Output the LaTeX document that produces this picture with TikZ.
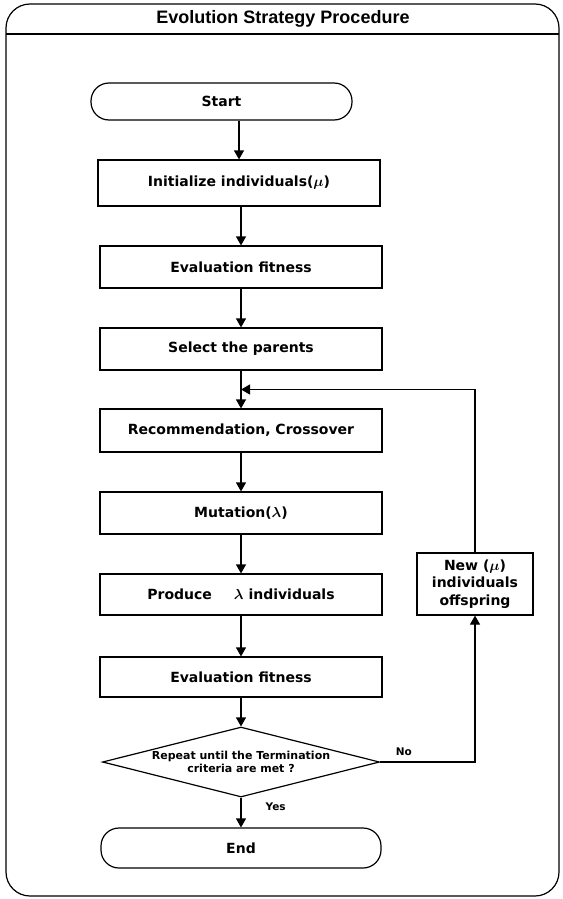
\documentclass[tikz,border=0pt]{standalone}
\usepackage{fontspec}
\setmainfont{DejaVu Sans}
\newfontfamily\titlefont{Liberation Sans}
\usetikzlibrary{arrows.meta,shapes.geometric,calc}
\begin{document}
\begin{tikzpicture}[x=1pt,y=-1pt,
  line width=1.2pt,
  box/.style={draw, rectangle, minimum width=282pt, minimum height=42pt, inner sep=0pt, font=\fontsize{14pt}{17.5pt}\selectfont\bfseries\boldmath},
  term/.style={box, rounded corners=18pt},
  dec/.style={draw, diamond, shape aspect=4, inner sep=0pt, minimum width=277pt, minimum height=70pt, align=center, font=\fontsize{11pt}{13.5pt}\selectfont\bfseries},
  lbl/.style={font=\fontsize{10.5pt}{12pt}\selectfont\bfseries, inner sep=0pt},
  arr/.style={-{Triangle[length=9pt,width=10pt]}}
]
\useasboundingbox (0,0) rectangle (562,899);
% frame
\draw[rounded corners=24pt] (6,4) rectangle (559,896);
\draw (6,34) -- (559,34);
\node[font=\fontsize{18pt}{20pt}\selectfont\titlefont\bfseries] (title) at (283,19) {Evolution Strategy Procedure};
% nodes
\node[term, minimum width=261pt, minimum height=37pt] (start) at (221.5,101.5) {Start};
\node[box, minimum height=46pt] (init) at (239,183) {Initialize individuals($\mu$)};
\node[box] (eval1) at (241,267) {Evaluation fitness};
\node[box] (sel) at (241,349) {Select the parents};
\node[box, minimum height=43pt] (rec) at (241,430.5) {Recommendation, Crossover};
\node[box] (mut) at (241,513) {Mutation($\lambda$)};
\node[box, minimum height=41pt] (prod) at (241,594.5) {Produce\hspace{22pt}$\lambda$ individuals};
\node[box, minimum width=116pt, minimum height=62pt, align=center] (new) at (475,584) {New ($\mu$)\\individuals\\offspring};
\node[box, minimum height=40pt] (eval2) at (241,677) {Evaluation fitness};
\node[dec] (cond) at (241,762) {Repeat until the Termination\\criteria are met ?};
\node[term, minimum width=280pt, minimum height=40pt] (end) at (241,848) {End};
% connectors
\draw[arr] (start.south -| init.north) -- (init.north);
\draw[arr] (init.south -| eval1.north) -- (eval1.north);
\draw[arr] (eval1.south) -- (sel.north);
\draw[arr] (sel.south) -- (rec.north);
\draw[arr] (rec.south) -- (mut.north);
\draw[arr] (mut.south) -- (prod.north);
\draw[arr] (prod.south) -- (eval2.north);
\draw[arr] (eval2.south) -- (cond.north);
\draw[arr] (cond.south) -- node[lbl, pos=0.3, right=24pt] {Yes} (end.north);
\coordinate (join) at ($(sel.south)!0.5!(rec.north)$);
\draw[arr] (cond.east) -- node[lbl, pos=0.25, above=6pt] {No} (cond.east -| new.south) -- (new.south);
\draw[arr] (new.north) |- (join);
\end{tikzpicture}
\end{document}
